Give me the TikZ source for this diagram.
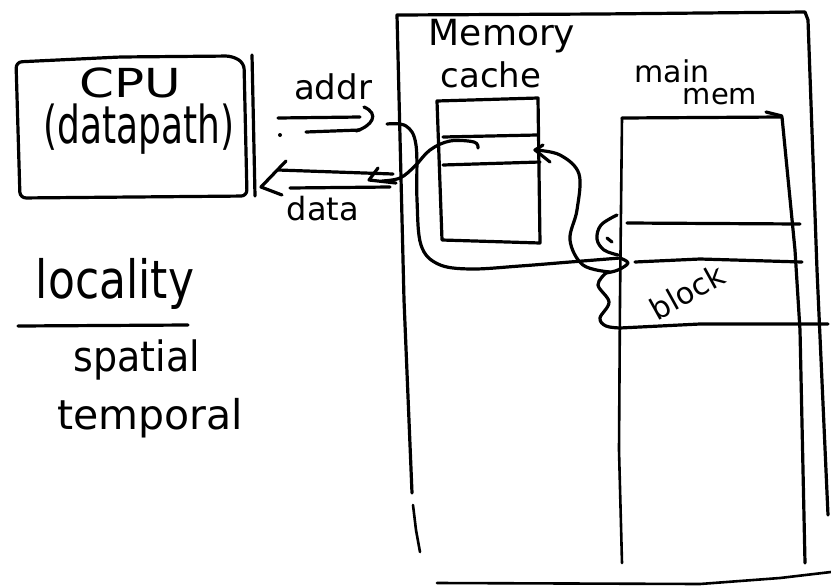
\documentclass[tikz,border=0pt]{standalone}
\usepackage{fontspec}
\usepackage{graphicx}
\setmainfont{DejaVu Sans}
\begin{document}
\begin{tikzpicture}[x=1pt,y=-1pt,
  ink/.style={line width=3.2pt,line cap=round,line join=round,black},
  thin ink/.style={line width=2.6pt,line cap=round,line join=round,black},
  lbl/.style={inner sep=0pt,text=black},
  hand/.style={ink,smooth,tension=0.6}]
\useasboundingbox (0,0) rectangle (831,587);

% ---------- CPU ----------
\draw[ink,rounded corners=6] (16,62) -- (120,57) -- (232,56) -- (244,63) -- (247,196) -- (20,198) -- cycle;
\draw[ink] (252,55) -- (255,196);
\node[lbl,font=\fontsize{40}{40}\selectfont] (cpu) at (130,83) {\scalebox{1.25}[1]{CPU}};
\node[lbl,font=\fontsize{36}{36}\selectfont] (dp) at (139,129) {\scalebox{1}[1.45]{(datapath)}};

% ---------- locality ----------
\node[lbl,font=\fontsize{44}{44}\selectfont] (loc) at (115,284) {\scalebox{1}[1.2]{locality}};
\coordinate (ulA) at (18,326);
\coordinate (ulB) at (188,325);
\draw[ink] (ulA) -- (ulB);
\node[lbl,font=\fontsize{38}{38}\selectfont] (spa) at (137,360) {\scalebox{1}[1.1]{spatial}};
\node[lbl,font=\fontsize{41}{41}\selectfont] (tem) at (150,418) {temporal};

% ---------- Memory outer box ----------
\draw[ink] (412,493) -- (404,300) -- (397,15) -- (600,14) -- (805,12) -- (808,20) -- (817,270) -- (828,515);
\draw[thin ink] (413,505) -- (416,530) -- (420,552);
\draw[thin ink] (437,583) -- (700,584) -- (780,578) -- (831,572);
\node[lbl,font=\fontsize{36}{36}\selectfont] (mem) at (502,36) {Memory};
\node[lbl,font=\fontsize{34}{34}\selectfont] (cachet) at (491,75) {cache};
\node[lbl,font=\fontsize{30}{30}\selectfont] (maint) at (672,71) {main};
\node[lbl,font=\fontsize{29}{29}\selectfont] (memt) at (720,97) {mem};

% ---------- cache box ----------
\draw[ink] (437,101) -- (538,98) -- (540,243) -- (442,240) -- cycle;
\draw[ink] (443,137) -- (537,135);
\draw[ink] (443,165) -- (540,162);
\coordinate (cRowL) at (478,148);
\coordinate (cRowR) at (535,150);

% ---------- main memory box ----------
\draw[ink] (622,118) -- (782,117) -- (795,250) -- (800,330) -- (805,563);
\draw[ink] (766,112) -- (782,116);
\draw[thin ink] (622,118) -- (620,300) -- (619,450) -- (622,563);
\draw[ink] (627,223) -- (800,224);
\draw[ink] (635,262) -- (700,259) -- (802,262);
\draw[ink] (620,328) -- (700,324) -- (828,324);
\node[lbl,font=\fontsize{30}{30}\selectfont,rotate=29] (blk) at (687,292) {block};
\coordinate (blkL) at (620,258);
\coordinate (blkS) at (610,272);

% ---------- addr arrow ----------
\node[lbl,font=\fontsize{34}{34}\selectfont] (addr) at (333,87) {addr};
\coordinate (aA) at (278,118);
\coordinate (aB) at (360,117);
\coordinate (aC) at (306,132);
\coordinate (aD) at (360,130);
\draw[ink] (aA) -- (aB);
\draw[ink] (aC) -- (aD);
\draw[ink] (364,107) .. controls (380,114) and (372,126) .. (356,131);
\fill (280,135) circle (2);
\draw[hand] plot coordinates {(387,124) (406,126) (416,145) (417,200) (421,245) (438,264) (470,269) (520,266) (570,262) (blkL)};
\draw[hand] plot coordinates {(blkL) (628,263) (618,270) (606,273)};

% ---------- data arrow ----------
\node[lbl,font=\fontsize{32}{32}\selectfont] (data) at (323,209) {data};
\coordinate (dA) at (278,170);
\coordinate (dB) at (393,174);
\coordinate (dC) at (290,188);
\coordinate (dD) at (390,187);
\draw[ink] (dA) -- (dB);
\draw[ink] (dC) -- (dD);
\draw[ink] (286,161) -- (261,187) -- (282,195);
\draw[ink] (378,168) -- (369,180) -- (396,183);
\draw[hand] plot coordinates {(cRowL) (474,142) (450,141) (430,150) (415,166) (400,178) (382,181)};

% ---------- block -> cache curve ----------
\draw[ink] (543,145) -- (cRowR) -- (550,162);
\draw[hand] plot coordinates {(cRowR) (560,155) (579,174) (577,210) (570,240) (583,265) (blkS)};

% ---------- squiggle ----------
\draw[hand] plot coordinates {(617,215) (601,225) (597,239) (604,250) (618,255)};
\draw[hand] plot coordinates {(606,273) (598,285) (609,302) (600,318) (606,326) (620,328)};
\draw[ink] (607,238) -- (612,242);
\end{tikzpicture}
\end{document}
